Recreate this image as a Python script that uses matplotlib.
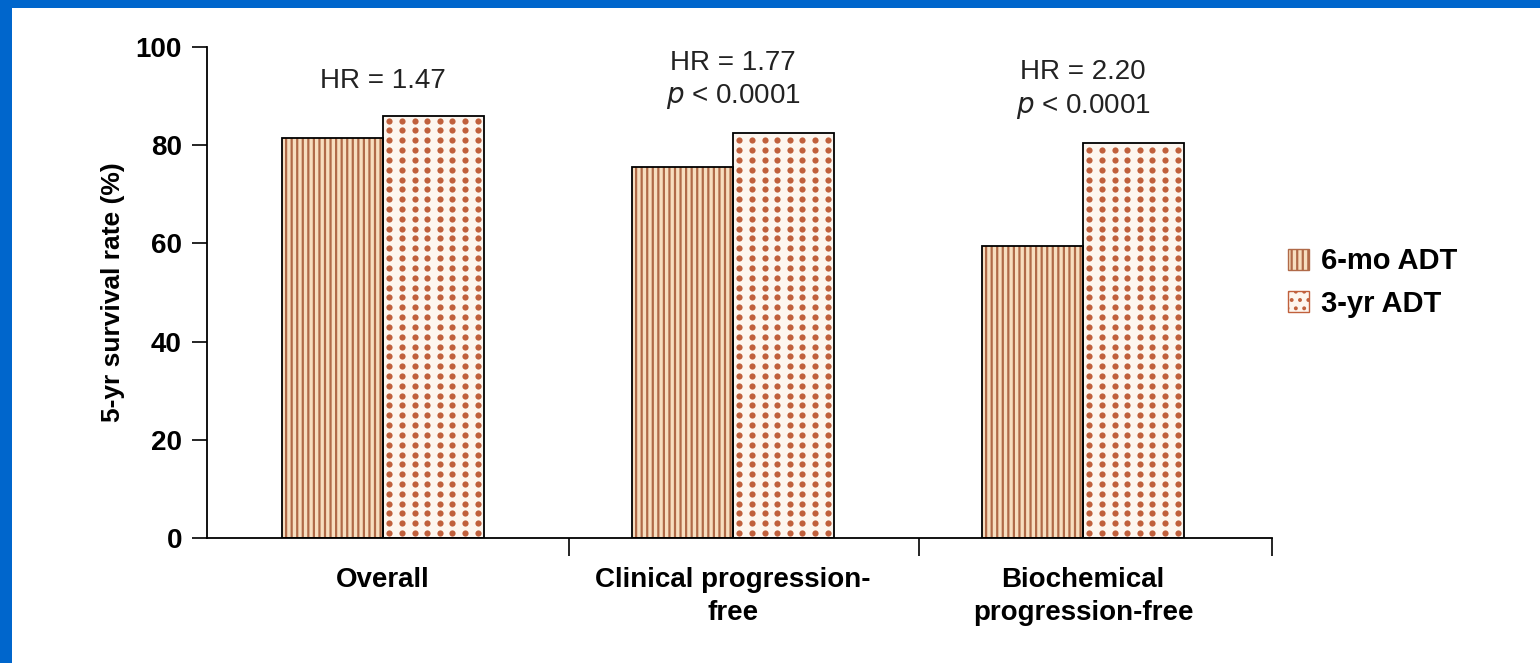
import numpy as np
import matplotlib
matplotlib.use("Agg")
import matplotlib.pyplot as plt
from matplotlib.patches import Rectangle, Patch

plt.rcParams['font.family'] = ['Liberation Sans', 'DejaVu Sans']
plt.rcParams['hatch.linewidth'] = 1.6

# datos
categorias = ["Overall", "Clinical progression-\nfree", "Biochemical\nprogression-free"]
seis_meses = [81.5, 75.5, 59.5]
tres_anos = [86.0, 82.5, 80.5]
hr_textos = ["HR = 1.47", "HR = 1.77\n$\\it{p}$ < 0.0001", "HR = 2.20\n$\\it{p}$ < 0.0001"]
series = ["6-mo ADT", "3-yr ADT"]
yticks = [0, 20, 40, 60, 80, 100]

fig = plt.figure(figsize=(15.4, 6.63), dpi=100)
fig.patch.set_facecolor("#0066CC")
# fondo blanco con borde azul arriba e izquierda
fig.patches.append(Rectangle((12/1540, 0), 1 - 12/1540, 1 - 8/663,
                             transform=fig.transFigure, facecolor="white",
                             edgecolor="none", zorder=-10))

ax = fig.add_axes([207/1540, 125/663, (1272-207)/1540, (616-125)/663])
ax.set_facecolor("none")

x = np.arange(len(categorias))
ancho = 0.288
c_fondo1 = "#F7DEBF"
c_raya = "#B06A48"
c_fondo2 = "#FDF6EF"
c_punto = "#C0603C"

# barras 6 meses: rayas verticales
ax.bar(x - ancho/2, seis_meses, ancho, color=c_fondo1, edgecolor=c_raya,
       hatch="|||", linewidth=0, zorder=2)
ax.bar(x - ancho/2, seis_meses, ancho, fill=False, edgecolor="black",
       linewidth=1.3, zorder=4)
# barras 3 anos: fondo claro + puntos en rejilla
ax.bar(x + ancho/2, tres_anos, ancho, color=c_fondo2, linewidth=0, zorder=2)
ax.bar(x + ancho/2, tres_anos, ancho, fill=False, edgecolor="black",
       linewidth=1.3, zorder=4)
for i in range(len(x)):
    izq = x[i]
    cols = izq + (np.arange(8) + 0.5) * ancho / 8
    filas = np.arange(1.0, tres_anos[i] - 0.5, 2.0)
    gx, gy = np.meshgrid(cols, filas)
    ax.scatter(gx.ravel(), gy.ravel(), s=20, color=c_punto, linewidths=0,
               zorder=3)

for i, t in enumerate(hr_textos):
    tope = max(seis_meses[i], tres_anos[i])
    ax.text(x[i], tope + 4.5, t, ha="center", va="bottom", fontsize=20,
            color="#222222", linespacing=1.3)

ax.set_xlim(-0.503, 2.54)
ax.set_ylim(0, 100)
ax.set_yticks(yticks)
ax.set_yticklabels([str(v) for v in yticks], fontsize=20, fontweight="bold")
ax.tick_params(axis="y", length=11, width=1.2, pad=7)

ax.set_xticks(x)
ax.set_xticklabels(categorias, fontsize=20, fontweight="bold", linespacing=1.35)
ax.tick_params(axis="x", which="major", length=0, pad=21)
ax.set_xticks([0.53, 1.53, 2.54], minor=True)
ax.tick_params(axis="x", which="minor", length=13, width=1.2)

ax.spines["top"].set_visible(False)
ax.spines["right"].set_visible(False)
ax.spines["left"].set_linewidth(1.3)
ax.spines["bottom"].set_linewidth(1.3)

ax.set_ylabel("5-yr survival rate (%)", fontsize=19, fontweight="bold", labelpad=8)

manijas = [Patch(facecolor=c_fondo1, edgecolor=c_raya, hatch="|||"),
           Patch(facecolor=c_fondo2, edgecolor=c_punto, hatch="..")]
leg = ax.legend(manijas, series, loc="center left", bbox_to_anchor=(0.99, 0.52),
                frameon=False, handlelength=0.75, handleheight=0.75,
                handletextpad=0.4, labelspacing=0.5,
                prop={"size": 21, "weight": "bold"})
for h in leg.legend_handles:
    h.set_linewidth(1.0)

fig.savefig("out.png", dpi=100, facecolor=fig.get_facecolor())
